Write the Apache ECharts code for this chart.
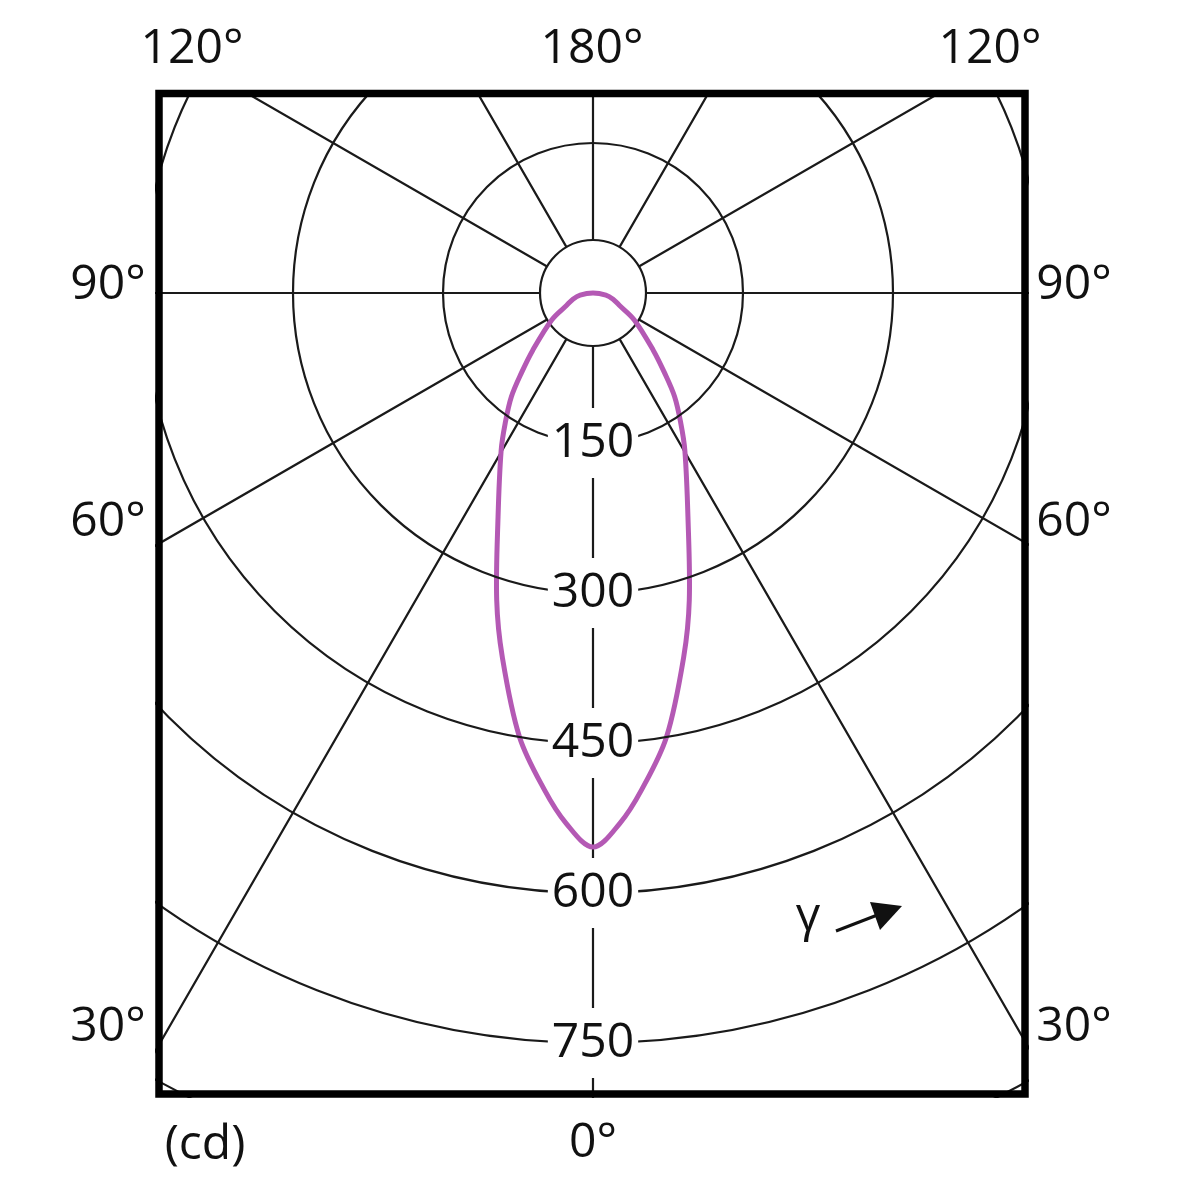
<!DOCTYPE html>
<html><head><meta charset="utf-8">
<script src="https://cdn.jsdelivr.net/npm/echarts@6/dist/echarts.min.js"></script>
<style>html,body{margin:0;padding:0;background:#fff}#c{width:1200px;height:1184px}</style>
</head><body><div id="c"></div>
<script>
// Luminous intensity (cd) read at gamma angles (deg), symmetric distribution
const gammaDeg    = [0, 2.9, 5.6, 9.4, 14.0, 17.4, 23.0, 30.3, 34.0, 38.2, 41.9, 46.5, 57.0, 65.0, 73.0, 81.0, 90];
const intensityCd = [554, 531, 499, 450, 375, 322, 243, 182, 157, 132, 107, 83, 49, 29, 21, 13, 0];
const ringValues  = [150, 300, 450, 600, 750];
const ringLabels  = ['150', '300', '450', '600', '750'];
const sideAngleLabels = ['120°', '90°', '60°', '30°'];
const topAngleLabel = '180°';
const bottomAngleLabel = '0°';
const unitLabel = '(cd)';
const gammaLabel = 'γ';

const FONT = '"Open Sans", "DejaVu Sans", sans-serif';
const GRID = {color: '#1a1a1a', width: 2.2};

// closed loop: centre -> down one side (360 - g) -> bottom -> up the other side (g)
const curve = [];
for (let i = gammaDeg.length - 1; i >= 1; i--) curve.push([intensityCd[i], 360 - gammaDeg[i]]);
for (let i = 0; i < gammaDeg.length - 1; i++) curve.push([intensityCd[i], gammaDeg[i]]);

const chart = echarts.init(document.getElementById('c'), null, {renderer: 'canvas'});

function txt(text, x, y, align) {
  return {type: 'text', z: 102, x: x, y: y,
    style: {text: text, fill: '#111', font: '48px ' + FONT, align: align || 'center', verticalAlign: 'middle'}};
}
const leftX = 108, rightX = 1074, sideY = [null, 285, 522, 1027];
const graphics = [
  {type: 'rect', z: 100, shape: {x: 0, y: 0, width: 1200, height: 90}, style: {fill: '#fff'}},
  {type: 'rect', z: 100, shape: {x: 0, y: 1098, width: 1200, height: 90}, style: {fill: '#fff'}},
  {type: 'rect', z: 100, shape: {x: 0, y: 0, width: 155, height: 1184}, style: {fill: '#fff'}},
  {type: 'rect', z: 100, shape: {x: 1029, y: 0, width: 171, height: 1184}, style: {fill: '#fff'}},
  {type: 'rect', z: 101, shape: {x: 159, y: 93.5, width: 866, height: 1000.5}, style: {fill: null, stroke: '#000', lineWidth: 7.5}},
  txt(sideAngleLabels[0], 192, 49),
  txt(topAngleLabel, 592, 49),
  txt(sideAngleLabels[0], 990, 49),
  txt(sideAngleLabels[1], leftX, sideY[1]), txt(sideAngleLabels[1], rightX, sideY[1]),
  txt(sideAngleLabels[2], leftX, sideY[2]), txt(sideAngleLabels[2], rightX, sideY[2]),
  txt(sideAngleLabels[3], leftX, sideY[3]), txt(sideAngleLabels[3], rightX, sideY[3]),
  txt(unitLabel, 205, 1145),
  txt(bottomAngleLabel, 593, 1143),
  txt(gammaLabel, 808, 917),
  {type: 'line', z: 102, shape: {x1: 836, y1: 931, x2: 880, y2: 914}, style: {stroke: '#111', lineWidth: 3}},
  {type: 'polygon', z: 102, shape: {points: [[870, 902], [902, 906], [880, 930]]}, style: {fill: '#111'}}
];

chart.setOption({
  animation: false,
  backgroundColor: '#fff',
  polar: [
    {center: [593, 293], radius: 1050},
    {center: [593, 293], radius: [53, 1050]}
  ],
  angleAxis: [
    {polarIndex: 0, type: 'value', min: 0, max: 360, interval: 30, startAngle: 270, clockwise: true,
      axisLine: {show: false}, axisTick: {show: false}, axisLabel: {show: false}, splitLine: {show: false}},
    {polarIndex: 1, type: 'value', min: 0, max: 360, interval: 30, startAngle: 270, clockwise: true,
      axisLine: {show: false}, axisTick: {show: false}, axisLabel: {show: false},
      splitLine: {show: true, lineStyle: GRID}}
  ],
  radiusAxis: [
    {polarIndex: 0, type: 'value', min: 0, max: 1050, interval: 150, z: 5,
      axisLine: {show: false}, axisTick: {show: false},
      splitLine: {show: true, lineStyle: GRID},
      axisLabel: {show: true, margin: 0, align: 'center', verticalAlign: 'middle',
        fontSize: 48, fontFamily: FONT, color: '#111',
        rich: {b: {fontSize: 48, fontFamily: FONT, color: '#111', backgroundColor: '#fff', padding: [11, 4]}},
        formatter: function (v) { const k = ringValues.indexOf(v); return k >= 0 ? '{b|' + ringLabels[k] + '}' : ''; }}},
    {polarIndex: 1, type: 'value', min: 0, max: 1, interval: 1,
      axisLine: {show: false}, axisTick: {show: false}, axisLabel: {show: false},
      splitLine: {show: true, lineStyle: GRID}}
  ],
  series: [{
    type: 'custom', coordinateSystem: 'polar', polarIndex: 0, data: curve, z: 3,
    renderItem: function (params, api) {
      if (params.dataIndex !== 0) return null;
      const pts = curve.map(function (p) { return api.coord(p); });
      return {type: 'polygon', shape: {points: pts, smooth: 0.34},
        style: {fill: 'none', stroke: '#b459b4', lineWidth: 5, lineJoin: 'round'}};
    }
  }],
  graphic: {elements: graphics}
});
</script></body></html>
